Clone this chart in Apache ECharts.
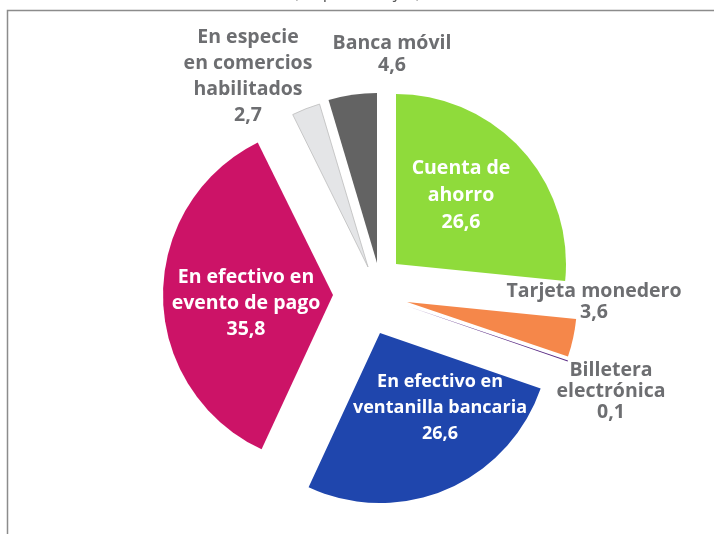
<!DOCTYPE html>
<html>
<head>
<meta charset="utf-8">
<script src="https://cdn.jsdelivr.net/npm/echarts@6/dist/echarts.min.js"></script>
<style>
html,body{margin:0;padding:0;background:#fff;}
#c{width:714px;height:534px;}
</style>
</head>
<body>
<div id="c"></div>
<script>
// Data
var categories = ['Cuenta de\nahorro', 'Tarjeta monedero', 'Billetera\nelectrónica',
  'En efectivo en\nventanilla bancaria', 'En efectivo en\nevento de pago',
  'En especie\nen comercios\nhabilitados', 'Banca móvil'];
var values = [26.6, 3.6, 0.1, 26.6, 35.8, 2.7, 4.6];
var colors = ['#8FDB3B', '#F5874A', '#5B2D86', '#1F46AD', '#CC1367', '#E4E5E7', '#636363'];
var insideLabel = [true, false, false, true, true, false, false];

// Layout (exploded slice apexes and label anchors, pixels)
var sliceCenters = [[396, 264], [407, 302], [407, 306], [380, 333], [333, 295], [368, 267], [377, 263]];
var labelPos = [[461, 195], [594, 302], [611, 391], [440, 408], [246, 303], [248, 76], [392, 54]];
var labelLH = [27, 21, 21, 26, 26, 26, 22];
var labelFS = [19.5, 19.5, 19.5, 18, 19.5, 19.5, 19.5];

function fmt(v) { return v.toFixed(1).replace('.', ','); }

var series = categories.map(function (c, k) {
  return {
    type: 'pie',
    radius: 170,
    center: sliceCenters[k],
    startAngle: 90,
    clockwise: true,
    avoidLabelOverlap: false,
    silent: true,
    label: {
      show: false,
      formatter: function (p) { return p.name + '\n' + fmt(p.value); },
      fontFamily: 'Open Sans',
      fontWeight: 'bold',
      fontSize: 19.5
    },
    labelLine: { show: false },
    labelLayout: function (p) {
      return { x: labelPos[p.dataIndex][0], y: labelPos[p.dataIndex][1], align: 'center', verticalAlign: 'middle' };
    },
    data: values.map(function (v, i) {
      var on = i === k;
      return {
        name: categories[i],
        value: v,
        itemStyle: {
          color: on ? colors[i] : 'rgba(0,0,0,0)',
          borderWidth: on && i === 5 ? 0.8 : 0,
          borderColor: on && i === 5 ? '#BDBDBD' : 'rgba(0,0,0,0)'
        },
        label: {
          show: on,
          position: insideLabel[i] ? 'inside' : 'outside',
          color: insideLabel[i] ? '#FFFFFF' : '#6D6E71',
          lineHeight: labelLH[i],
          fontSize: labelFS[i]
        }
      };
    })
  };
});

var chart = echarts.init(document.getElementById('c'), null, { renderer: 'canvas' });
chart.setOption({
  animation: false,
  backgroundColor: '#FFFFFF',
  graphic: [
    {
      type: 'rect',
      shape: { x: 7.5, y: 10.5, width: 720, height: 540 },
      style: { fill: 'none', stroke: '#8C8C8C', lineWidth: 1.5 },
      silent: true
    },
    {
      type: 'text',
      left: 'center',
      top: -15,
      style: { text: '(en porcentajes)', fontFamily: 'Open Sans', fontSize: 17, fill: '#595959' },
      silent: true
    }
  ],
  series: series
});
</script>
</body>
</html>
